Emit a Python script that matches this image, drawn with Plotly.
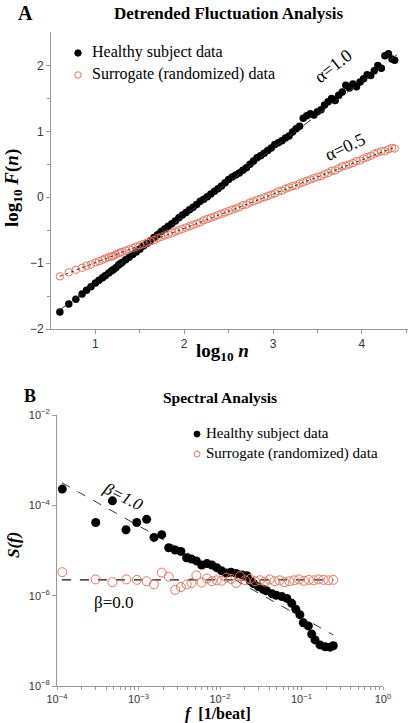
import numpy as np
import plotly.graph_objects as go

# ---------------- Panel A : DFA ----------------
log_n = [0.60, 0.70, 0.78, 0.85, 0.90, 0.95, 1.00, 1.04, 1.08, 1.11, 1.15, 1.18, 1.20, 1.23, 1.26, 1.28, 1.30,
         1.34, 1.38, 1.42, 1.46, 1.50, 1.54, 1.58, 1.62, 1.66, 1.70, 1.74, 1.78, 1.82, 1.86, 1.90, 1.94, 1.98,
         2.02, 2.06, 2.10, 2.14, 2.18, 2.22, 2.26, 2.30, 2.34, 2.38, 2.42, 2.46, 2.50, 2.54, 2.58, 2.62, 2.66,
         2.70, 2.74, 2.78, 2.82, 2.86, 2.90, 2.94, 2.98, 3.02, 3.06, 3.10, 3.14, 3.18, 3.22, 3.26, 3.30, 3.34,
         3.38, 3.42, 3.46, 3.50, 3.54, 3.58, 3.62, 3.66, 3.70, 3.74, 3.78, 3.82, 3.86, 3.90, 3.94, 3.98, 4.02,
         4.06, 4.10, 4.14, 4.18, 4.22, 4.26, 4.30, 4.34, 4.37]

healthy_logF = [-1.74, -1.62, -1.55, -1.47, -1.41, -1.36, -1.30, -1.26, -1.22, -1.19, -1.15, -1.12, -1.10, -1.07,
                -1.03, -1.01, -0.99, -0.95, -0.91, -0.87, -0.83, -0.79, -0.74, -0.70, -0.66, -0.61, -0.57, -0.52,
                -0.48, -0.44, -0.40, -0.36, -0.31, -0.27, -0.23, -0.19, -0.15, -0.11, -0.06, -0.03, 0.01, 0.05,
                0.09, 0.13, 0.17, 0.22, 0.27, 0.31, 0.34, 0.37, 0.41, 0.45, 0.50, 0.55, 0.60, 0.63, 0.67, 0.71,
                0.75, 0.80, 0.83, 0.86, 0.90, 0.93, 0.99, 1.04, 1.08, 1.20, 1.24, 1.27, 1.25, 1.30, 1.33, 1.40,
                1.45, 1.50, 1.47, 1.55, 1.60, 1.70, 1.66, 1.72, 1.68, 1.75, 1.80, 1.86, 1.85, 1.92, 2.00, 1.96,
                2.15, 2.18, 2.10, 2.08]

surrogate_logF = [-1.20, -1.14, -1.10, -1.07, -1.04, -1.02, -0.99, -0.97, -0.95, -0.93, -0.91, -0.90, -0.89, -0.87,
                  -0.85, -0.84, -0.83, -0.81, -0.79, -0.77, -0.75, -0.73, -0.71, -0.69, -0.67, -0.65, -0.62, -0.60,
                  -0.58, -0.56, -0.54, -0.52, -0.50, -0.48, -0.46, -0.44, -0.42, -0.40, -0.38, -0.35, -0.33, -0.31,
                  -0.29, -0.27, -0.25, -0.23, -0.21, -0.19, -0.17, -0.15, -0.12, -0.11, -0.08, -0.06, -0.04, -0.02,
                  0.00, 0.02, 0.04, 0.06, 0.09, 0.10, 0.13, 0.15, 0.17, 0.18, 0.21, 0.23, 0.25, 0.27, 0.29, 0.31,
                  0.32, 0.35, 0.37, 0.40, 0.41, 0.44, 0.47, 0.48, 0.50, 0.52, 0.55, 0.56, 0.59, 0.61, 0.63, 0.66,
                  0.68, 0.70, 0.70, 0.73, 0.75, 0.74]

fitA_healthy_x = [0.60, 4.43]
fitA_healthy_y = [-1.71, 2.20]
fitA_surr_x = [0.60, 4.37]
fitA_surr_y = [-1.20, 0.76]

# ---------------- Panel B : spectra (log10 values) ----------------
healthy_logf = [-3.935, -3.525, -3.32, -3.153, -3.022, -2.90, -2.81, -2.715, -2.63, -2.55, -2.48, -2.41, -2.35,
                -2.29, -2.225, -2.16, -2.10, -2.04, -1.98, -1.92, -1.865, -1.80, -1.73, -1.67, -1.63, -1.59,
                -1.53, -1.47, -1.43, -1.36, -1.31, -1.24, -1.18, -1.12, -1.07, -1.02, -0.978, -0.916, -0.875,
                -0.834, -0.773, -0.71, -0.65, -0.61]
healthy_logS = [-3.64, -4.38, -3.90, -4.54, -4.38, -4.31, -4.71, -4.65, -4.94, -4.99, -5.02, -5.16, -5.19,
                -5.23, -5.32, -5.29, -5.32, -5.38, -5.45, -5.50, -5.48, -5.51, -5.54, -5.56, -5.67, -5.73,
                -5.80, -5.86, -5.89, -5.96, -5.99, -6.02, -6.06, -6.17, -6.30, -6.42, -6.60, -6.67, -6.85,
                -6.98, -7.09, -7.13, -7.14, -7.11]

surr_logf = [-3.935, -3.525, -3.32, -3.15, -3.02, -2.90, -2.81, -2.715, -2.63, -2.55, -2.48, -2.41, -2.35,
             -2.29, -2.225, -2.16, -2.10, -2.04, -1.98, -1.92, -1.865, -1.80, -1.755, -1.69, -1.63, -1.57,
             -1.51, -1.45, -1.39, -1.33, -1.27, -1.21, -1.15, -1.09, -1.03, -0.97, -0.91, -0.85, -0.79,
             -0.73, -0.67, -0.61]
surr_logS = [-5.48, -5.64, -5.70, -5.64, -5.65, -5.68, -5.75, -5.49, -5.58, -5.87, -5.81, -5.75, -5.72,
             -5.55, -5.71, -5.62, -5.68, -5.66, -5.67, -5.60, -5.63, -5.72, -5.57, -5.66, -5.63, -5.68,
             -5.66, -5.69, -5.64, -5.68, -5.66, -5.70, -5.68, -5.66, -5.64, -5.67, -5.65, -5.66, -5.64,
             -5.65, -5.66, -5.65]

fitB_beta1_logf = [-3.94, -0.61]
fitB_beta1_logS = [-3.50, -6.87]
fitB_beta0_logf = [-3.94, -0.61]
fitB_beta0_logS = [-5.65, -5.65]

W, H = 410, 723
def px(x): return x / W
def py(y): return 1 - y / H

BLACK = "#000000"
SALMON = "#E8735F"
AXIS = "#999999"
SERIF = "Liberation Serif, Times New Roman, serif"
SANS = "Liberation Sans, Arial, sans-serif"

fig = go.Figure()

# Panel A
fig.add_trace(go.Scatter(x=log_n, y=healthy_logF, mode="markers", xaxis="x", yaxis="y",
                         marker=dict(color=BLACK, size=7.5, line=dict(width=0)), showlegend=False))
fig.add_trace(go.Scatter(x=log_n, y=surrogate_logF, mode="markers", xaxis="x", yaxis="y",
                         marker=dict(symbol="circle-open", color=SALMON, size=7.5, line=dict(width=1, color=SALMON)),
                         showlegend=False))
fig.add_trace(go.Scatter(x=fitA_healthy_x, y=fitA_healthy_y, mode="lines", xaxis="x", yaxis="y",
                         line=dict(color="#333333", width=1, dash="dash"), showlegend=False))
fig.add_trace(go.Scatter(x=fitA_surr_x, y=fitA_surr_y, mode="lines", xaxis="x", yaxis="y",
                         line=dict(color="#333333", width=1, dash="dot"), showlegend=False))

# Panel B
pow10 = lambda v: list(np.power(10.0, v))
fig.add_trace(go.Scatter(x=pow10(fitB_beta1_logf), y=pow10(fitB_beta1_logS), mode="lines", xaxis="x2", yaxis="y2",
                         line=dict(color="#333333", width=1, dash="dash"), showlegend=False))
fig.add_trace(go.Scatter(x=pow10(fitB_beta0_logf), y=pow10(fitB_beta0_logS), mode="lines", xaxis="x2", yaxis="y2",
                         line=dict(color="#111111", width=1.2, dash="dash"), showlegend=False))
fig.add_trace(go.Scatter(x=pow10(healthy_logf), y=pow10(healthy_logS), mode="markers", xaxis="x2", yaxis="y2",
                         marker=dict(color=BLACK, size=9, line=dict(width=0)), showlegend=False))
fig.add_trace(go.Scatter(x=pow10(surr_logf), y=pow10(surr_logS), mode="markers", xaxis="x2", yaxis="y2",
                         marker=dict(symbol="circle-open", color=SALMON, size=9, line=dict(width=1, color=SALMON)),
                         showlegend=False))

axis_common = dict(showgrid=False, zeroline=False, showline=True, linecolor=AXIS, linewidth=1,
                   ticks="outside", tickcolor=AXIS, ticklen=4, tickwidth=1, automargin=False,
                   tickfont=dict(family=SANS, size=12, color="#333333"))

fig.update_layout(
    width=W, height=H, margin=dict(l=0, r=0, t=0, b=0),
    paper_bgcolor="white", plot_bgcolor="white", template="none", showlegend=False,
    xaxis=dict(axis_common, domain=[px(51), px(408)], range=[0.5, 4.52], anchor="y",
               tickvals=[1, 2, 3, 4], ticktext=["1", "2", "3", "4"],
               minor=dict(ticks="outside", tickvals=[1.5, 2.5, 3.5, 4.5], ticklen=3, tickcolor=AXIS)),
    yaxis=dict(axis_common, domain=[py(329), py(32)], range=[-2.0, 2.51], anchor="x",
               tickvals=[-2, -1, 0, 1, 2], ticktext=["\u22122", "\u22121", "0", "1", "2"],
               minor=dict(ticks="outside", tickvals=[-1.5, -0.5, 0.5, 1.5], ticklen=3, tickcolor=AXIS)),
    xaxis2=dict(axis_common, type="log", domain=[px(57), px(383)], range=[-4, 0], anchor="y2",
                tickvals=[1e-4, 1e-3, 1e-2, 1e-1, 1],
                ticktext=["10<sup>\u22124</sup>", "10<sup>\u22123</sup>", "10<sup>\u22122</sup>",
                          "10<sup>\u22121</sup>", "10<sup>0</sup>"],
                tickfont=dict(family=SANS, size=11, color="#333333"), ticklen=3,
                minor=dict(ticks="outside", ticklen=3, tickcolor=AXIS, dtick="D1")),
    yaxis2=dict(axis_common, type="log", domain=[py(686), py(415)], range=[-8, -2], anchor="x2",
                tickvals=[1e-8, 1e-6, 1e-4, 1e-2],
                ticktext=["10<sup>\u22128</sup>", "10<sup>\u22126</sup>", "10<sup>\u22124</sup>",
                          "10<sup>\u22122</sup>"],
                tickfont=dict(family=SANS, size=11, color="#333333")),
)

ann = []
def A(x, y, text, size, bold=False, italic=False, angle=0, xanchor="center", color="#000000", family=SERIF):
    t = text
    if italic:
        t = "<i>" + t + "</i>"
    if bold:
        t = "<b>" + t + "</b>"
    ann.append(dict(x=px(x), y=py(y), xref="paper", yref="paper", text=t, showarrow=False,
                    font=dict(family=family, size=size, color=color), textangle=angle,
                    xanchor=xanchor, yanchor="middle"))

# Panel A texts
A(25, 13, "A", 20, bold=True)
A(229, 13, "Detrended Fluctuation Analysis", 17, bold=True)
A(222, 352, "log<sub>10</sub> <i>n</i>", 19, bold=True)
A(13, 188, "log<sub>10</sub> <i>F</i>(<i>n</i>)", 19, bold=True, angle=-90)
A(90, 52, "Healthy subject data", 16, xanchor="left")
A(90, 74, "Surrogate (randomized) data", 16, xanchor="left")
A(333, 66, "\u03b1=1.0", 18, angle=-38)
A(345, 147, "\u03b1=0.5", 18, angle=-25)

# Panel B texts
A(30, 396, "B", 18, bold=True)
A(220, 397, "Spectral Analysis", 15.5, bold=True)
A(218, 714, "<i>f</i>  [1/beat]", 16, bold=True)
A(13, 545, "<i>S(f)</i>", 17, bold=True, angle=-90)
A(204, 433, "Healthy subject data", 15, xanchor="left")
A(204, 453, "Surrogate (randomized) data", 15, xanchor="left")
A(123, 496, "\u03b2=1.0", 17, italic=True, angle=27)
A(114, 602, "\u03b2=0.0", 17)

fig.update_layout(annotations=ann)

# legend glyphs
shapes = []
def circ(cx, cy, r, fill, line):
    shapes.append(dict(type="circle", xref="paper", yref="paper",
                       x0=px(cx - r), x1=px(cx + r), y0=py(cy + r), y1=py(cy - r),
                       fillcolor=fill, line=dict(color=line, width=1)))
circ(78, 53, 3.2, BLACK, BLACK)
circ(78, 75, 3.2, "rgba(0,0,0,0)", SALMON)
circ(197, 434, 3.0, BLACK, BLACK)
circ(197, 454, 3.0, "rgba(0,0,0,0)", SALMON)
fig.update_layout(shapes=shapes)

fig.write_html("out.html", config={"displayModeBar": False},
               post_script="document.body.style.margin='0';document.body.style.padding='0';"
                           "document.body.style.overflow='hidden';")
